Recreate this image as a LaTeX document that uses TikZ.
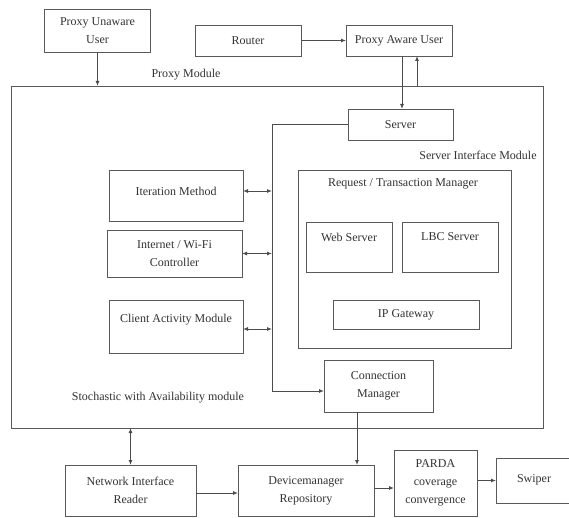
\documentclass[tikz,border=0pt]{standalone}
\usepackage{fontspec}
\setmainfont{Liberation Serif}
\usetikzlibrary{arrows.meta}
\begin{document}
\begin{tikzpicture}[x=1pt,y=-1pt,
  every node/.style={font=\fontsize{12}{18}\selectfont, text=black!80},
  box/.style={draw=black!65, line width=0.9pt, inner sep=0pt, outer sep=0pt, align=center},
  lbl/.style={inner sep=0pt, align=center},
  conn/.style={draw=black!70, line width=0.9pt},
  arr/.style={conn, -{Latex[length=5pt,width=4pt]}},
  darr/.style={conn, {Latex[length=5pt,width=4pt]}-{Latex[length=5pt,width=4pt]}}]
\useasboundingbox (0,0) rectangle (569,518);
\fill[white] (0,0) rectangle (569,518);
% top row
\node[box, minimum width=106pt, minimum height=43pt] (pu) at (97.5,30.5) {Proxy Unaware\\User};
\node[box, minimum width=106pt, minimum height=31pt] (router) at (248,40.5) {Router};
\node[box, minimum width=106pt, minimum height=31pt] (pa) at (399,40.5) {Proxy Aware User};
% big module
\node[box, minimum width=532pt, minimum height=342pt] (big) at (277,257) {};
\node[lbl] (pmlbl) at (186,75) {Proxy Module};
\node[box, minimum width=105pt, minimum height=31pt] (server) at (400.5,124.5) {Server};
\node[lbl] (silbl) at (478,155) {Server Interface Module};
% left boxes
\node[box, minimum width=134pt, minimum height=51pt] (iter) at (176,195.5) {};
\node[lbl] (itertxt) at (176,191) {Iteration Method};
\node[box, minimum width=135pt, minimum height=47pt] (inet) at (174.5,253.5) {Internet / Wi-Fi\\Controller};
\node[box, minimum width=134pt, minimum height=53pt] (client) at (176,326.5) {};
\node[lbl] (clienttxt) at (176,320) {Client Activity Module};
% request / transaction manager
\node[box, minimum width=213pt, minimum height=178pt] (rtm) at (404.5,259) {};
\node[lbl] (rtmtxt) at (403,184) {Request / Transaction Manager};
\node[box, minimum width=86pt, minimum height=50pt] (web) at (349,247) {};
\node[lbl] (webtxt) at (349,237) {Web Server};
\node[box, minimum width=96pt, minimum height=50pt] (lbc) at (450,247) {};
\node[lbl] (lbctxt) at (450,237) {LBC Server};
\node[box, minimum width=146pt, minimum height=29pt] (ipg) at (406,314.5) {IP Gateway};
% connection manager
\node[box, minimum width=109pt, minimum height=52pt] (cm) at (378.5,386) {Connection\\Manager};
\node[lbl] (stlbl) at (158,398) {Stochastic with Availability module};
% bottom row
\node[box, minimum width=131pt, minimum height=51pt] (nir) at (130.5,490.5) {Network Interface\\Reader};
\node[box, minimum width=136pt, minimum height=51pt] (dmr) at (306,490.5) {Devicemanager\\Repository};
\node[box, minimum width=83pt, minimum height=66pt] (parda) at (435.5,483) {PARDA\\coverage\\convergence};
\node[box, minimum width=84pt, minimum height=45pt] (swiper) at (538,480.5) {};
\node[lbl] (swipertxt) at (534,480) {Swiper};
% connectors
\draw[arr] (pu.south) -- (pu.south |- big.north);
\draw[arr] (router.east) -- (pa.west);
\coordinate (pad) at ([xshift=3pt]pa.south);
\coordinate (pau) at ([xshift=18pt]pa.south);
\draw[arr] (pad) -- (pad |- server.north);
\draw[arr] (pau |- big.north) -- (pau);
\coordinate (bus) at (272,124.5);
\coordinate (cmin) at ([yshift=-5pt]cm.west);
\draw[arr] (server.west) -- (bus) -- (bus |- cmin) -- (cmin);
\coordinate (i1) at ([yshift=4.5pt]iter.east);
\coordinate (i2) at (inet.east);
\coordinate (i3) at ([yshift=-2.5pt]client.east);
\draw[darr] (i1) -- (i1 -| bus);
\draw[darr] (i2) -- (i2 -| bus);
\draw[darr] (i3) -- (i3 -| bus);
\draw[darr] (nir.north |- big.south) -- (nir.north);
\coordinate (cmd) at ([xshift=-21.5pt]cm.south);
\draw[arr] (cmd) -- (cmd |- dmr.north);
\coordinate (n1) at ([yshift=-2.5pt]nir.east);
\draw[arr] (n1) -- (n1 -| dmr.west);
\coordinate (d1) at ([yshift=2.5pt]dmr.east);
\draw[arr] (d1) -- (d1 -| parda.west);
\draw[arr] (parda.east |- swiper.west) -- (swiper.west);
\end{tikzpicture}
\end{document}
